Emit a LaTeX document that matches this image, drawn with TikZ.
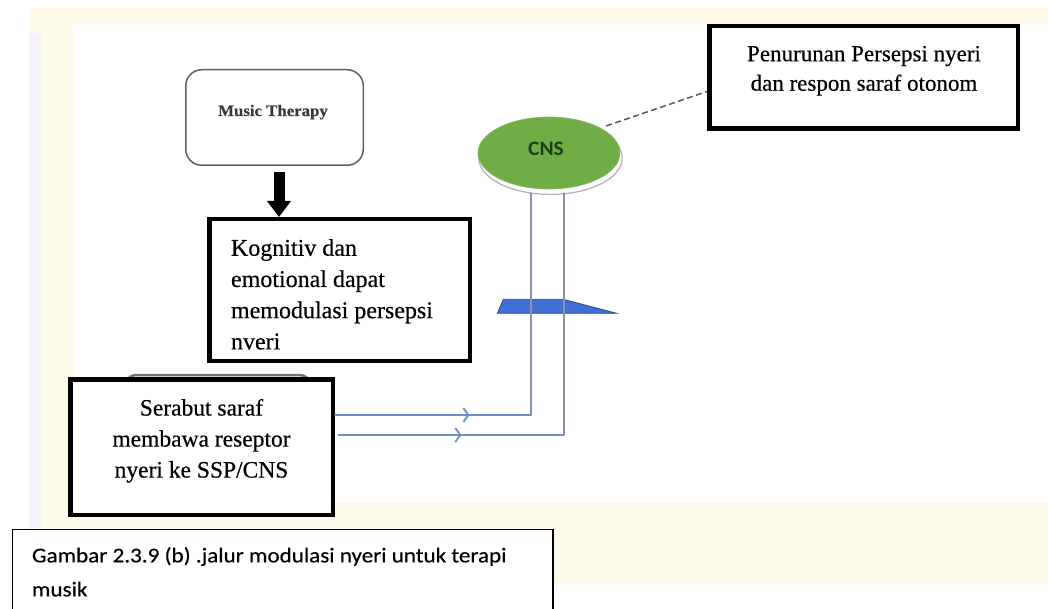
\documentclass[tikz,border=0pt]{standalone}
\usepackage{fontspec}
\setmainfont{Liberation Serif}[FakeBold=0.4]
\newfontfamily\capfont[FakeStretch=1.1,FakeBold=0.4]{Carlito}
\newfontfamily\cnsfont[FakeStretch=1.05]{Carlito}
\newfontfamily\widefont[FakeStretch=1.05,FakeBold=0.4]{Liberation Serif}
\usetikzlibrary{arrows.meta,decorations.markings,shapes.geometric,shadows}

\definecolor{cream}{HTML}{FFFBEB}
\definecolor{lavender}{HTML}{F3F3F8}
\definecolor{leaf}{HTML}{70AD47}
\definecolor{leafdark}{HTML}{1E3F12}
\definecolor{wedge}{HTML}{3F6FD5}
\definecolor{wedgeedge}{HTML}{2F4F90}
\definecolor{fibreh}{HTML}{6F8FCB}
\definecolor{fibrev}{HTML}{8893A6}
\definecolor{slate}{HTML}{5B5F6B}

\tikzset{
  frame/.style={draw=black, line width=4.5pt, fill=white, inner sep=0pt},
  txt/.style={inner sep=0pt, outer sep=0pt},
  fibre/.style={line width=1.8pt, line cap=round},
  midbarb/.style={postaction={decorate},
    decoration={markings, mark=at position #1 with {\arrow{Straight Barb[length=5pt,width=14pt]}}}},
  leader/.style={draw=black!65, line width=1.5pt, dash pattern=on 6pt off 3.5pt},
  bigarrow/.style={line width=11pt, -{Triangle[length=16pt,width=23pt]}},
}

\begin{document}
\begin{tikzpicture}[x=1pt,y=-1pt]
\useasboundingbox (0,0) rectangle (1048,609);
\clip (0,0) rectangle (1048,609);

% page backdrop
\fill[cream] (29,8) rectangle (1048,585);
\fill[lavender] (29,33) rectangle (41,528);
\fill[white] (73,25) rectangle (1048,502);

% blue wedge across the fibres
\filldraw[fill=wedge, draw=wedgeedge, line width=0.8pt]
  (503.3,299.3) -- (563.3,299.3) -- (616.7,313.3) -- (497.3,313.3) -- cycle;

% rounded box peeking out behind the fibre label
\draw[black!55, line width=2.5pt, rounded corners=14pt]
  (123,420) -- (123,375) -- (313,375) -- (313,420);

% boxes
\node[draw=slate, line width=1.5pt, rounded corners=16pt, fill=white,
      minimum width=177.5pt, minimum height=95.5pt] (mt) at (274.5,117.5) {};
\node[frame, minimum width=260.5pt, minimum height=141.5pt] (kog) at (339.5,290) {};
\node[frame, minimum width=308.5pt, minimum height=102.5pt] (pen) at (863.5,77.5) {};
\node[frame, minimum width=262.5pt, minimum height=135.5pt] (ser) at (201.5,447) {};
\node[ellipse, fill=leaf, draw=leaf!85!white, line width=0.6pt, inner sep=0pt,
      general shadow={shadow xshift=1.5pt, shadow yshift=-5pt, shadow scale=1.01,
                      fill=white, draw=black!30, line width=1.2pt},
      minimum width=142pt, minimum height=72pt] (cns) at (549,153) {};
\node[draw=black, line width=1.5pt, fill=white, inner sep=0pt,
      minimum width=540.5pt, minimum height=100pt, anchor=north west] (capframe) at (11.75,528.75) {};

% texts
\node[txt, anchor=base, text=black!78,
      font=\widefont\bfseries\fontsize{16}{19}\selectfont] (mtlabel) at (273,116) {Music Therapy};
\node[txt, anchor=north west, align=left,
      font=\fontsize{24}{31.2}\selectfont] (kogtext) at (231,239.1)
  {Kognitiv dan\\emotional dapat\\memodulasi persepsi\\nveri};
\node[txt, anchor=north, align=center,
      font=\fontsize{23}{29.5}\selectfont] (pentext) at (864,46)
  {Penurunan Persepsi nyeri\\dan respon saraf otonom};
\node[txt, anchor=north, align=center,
      font=\fontsize{23.5}{31}\selectfont] (sertext) at (201.5,399)
  {Serabut saraf\\membawa reseptor\\nyeri ke SSP/CNS};
\node[txt, anchor=base, text=leafdark,
      font=\cnsfont\bfseries\fontsize{20.5}{24}\selectfont] (cnslabel) at (546,155.5) {CNS};
\node[txt, anchor=north west, align=left,
      font=\capfont\fontsize{21}{34}\selectfont] (captext) at (32,547)
  {Gambar 2.3.9 (b) .jalur modulasi nyeri untuk terapi\\musik};

% music therapy feeds the cognitive box
\draw[bigarrow, shorten <=6pt] ([xshift=4.5pt]mt.south) -- ([xshift=4.5pt]mt.south |- kog.north);

% nerve fibres up to the CNS
\coordinate (bendA) at (531,415);
\coordinate (bendB) at (564,435);
\draw[fibre, fibreh, midbarb=0.686] ([yshift=32pt]ser.east) -- (bendA);
\draw[fibre, fibreh, midbarb=0.545] ([xshift=3.5pt,yshift=12pt]ser.east) -- (bendB);
\draw[fibre, fibrev] (bendA) -- ([yshift=-4pt]bendA |- cns.south);
\draw[fibre, fibrev] (bendB) -- ([yshift=-4pt]bendB |- cns.south);

% leader from the CNS to its outcome
\draw[leader, shorten <=6pt] (cns.26) -- ([yshift=-14pt]pen.west);
\end{tikzpicture}
\end{document}
